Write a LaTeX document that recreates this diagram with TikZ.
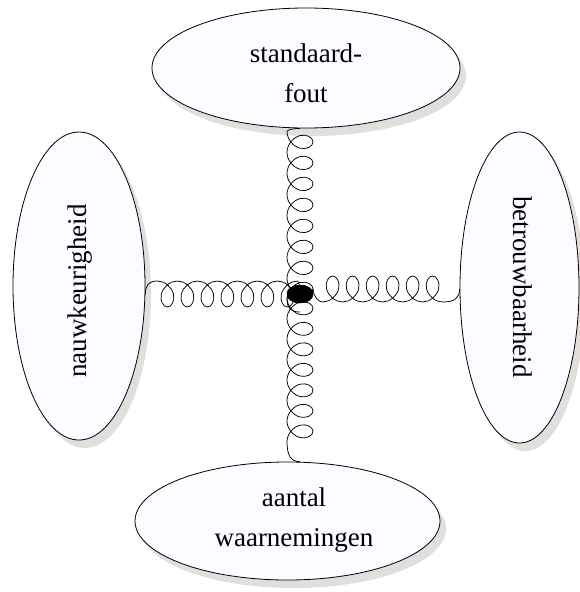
\documentclass[tikz,border=0pt]{standalone}
\usepackage{fontspec}
\setmainfont{Liberation Serif}
\usetikzlibrary{shapes.geometric,shadows,decorations}

\definecolor{bubblefill}{RGB}{250,252,255}
\definecolor{shadowgrey}{RGB}{226,222,220}

% A helical spring seen from the side: a short lead-in curl, whole turns,
% and a tail that runs into the end point.
\def\gluonlead{12pt}
\pgfdeclaredecoration{helix}{lead}{
  \state{lead}[width=\gluonlead, next state=turn]{
    \pgfpathcurveto{\pgfpoint{0pt}{0.7*\pgfdecorationsegmentamplitude}}
                   {\pgfpoint{0.3*\gluonlead}{\pgfdecorationsegmentamplitude}}
                   {\pgfpoint{\gluonlead}{\pgfdecorationsegmentamplitude}}
  }
  \state{turn}[switch if less than=1.05*\pgfdecorationsegmentlength to final,
               width=\pgfdecorationsegmentlength]{
    \pgfpathcurveto{\pgfpoint{0.3713*\pgfdecorationsegmentlength}{\pgfdecorationsegmentamplitude}}
                   {\pgfpoint{0.7167*\pgfdecorationsegmentlength}{0.5236*\pgfdecorationsegmentamplitude}}
                   {\pgfpoint{0.8*\pgfdecorationsegmentlength}{0pt}}
    \pgfpathcurveto{\pgfpoint{0.8833*\pgfdecorationsegmentlength}{-0.5236*\pgfdecorationsegmentamplitude}}
                   {\pgfpoint{0.7046*\pgfdecorationsegmentlength}{-\pgfdecorationsegmentamplitude}}
                   {\pgfpoint{0.5*\pgfdecorationsegmentlength}{-\pgfdecorationsegmentamplitude}}
    \pgfpathcurveto{\pgfpoint{0.2954*\pgfdecorationsegmentlength}{-\pgfdecorationsegmentamplitude}}
                   {\pgfpoint{0.1167*\pgfdecorationsegmentlength}{-0.5236*\pgfdecorationsegmentamplitude}}
                   {\pgfpoint{0.2*\pgfdecorationsegmentlength}{0pt}}
    \pgfpathcurveto{\pgfpoint{0.2833*\pgfdecorationsegmentlength}{0.5236*\pgfdecorationsegmentamplitude}}
                   {\pgfpoint{0.6287*\pgfdecorationsegmentlength}{\pgfdecorationsegmentamplitude}}
                   {\pgfpoint{\pgfdecorationsegmentlength}{\pgfdecorationsegmentamplitude}}
  }
  \state{final}{
    \pgfpathcurveto{\pgfpoint{0.4*\pgfdecoratedremainingdistance}{\pgfdecorationsegmentamplitude}}
                   {\pgfpoint{\pgfdecoratedremainingdistance}{0.6*\pgfdecorationsegmentamplitude}}
                   {\pgfpoint{\pgfdecoratedremainingdistance}{0pt}}
  }
}

\tikzset{
  bubble/.style={ellipse, draw=black, line width=0.8pt, fill=bubblefill, inner sep=0pt,
    general shadow={fill=shadowgrey, shadow xshift=6pt, shadow yshift=-8pt}},
  lbl/.style={font=\fontsize{27}{40}\selectfont, align=center, inner sep=0pt},
  lead in/.code={\def\gluonlead{#1}},
  spring/.style={line width=0.75pt, decorate,
    decoration={helix, amplitude=13pt, segment length=#1}},
  spring/.default=20pt,
  hub/.style={ellipse, fill=black, draw=black, inner sep=0pt, minimum width=26pt, minimum height=18pt}
}

\begin{document}
\begin{tikzpicture}[x=1pt,y=-1pt]
  \useasboundingbox (0,0) rectangle (580,592);

  % the four concepts
  \node[bubble, minimum width=308pt, minimum height=120pt] (se) at (306,68) {};
  \node[bubble, minimum width=132pt, minimum height=308pt] (nw) at (79,286) {};
  \node[bubble, minimum width=119pt, minimum height=311pt] (bt) at (519.5,287.5) {};
  \node[bubble, minimum width=305pt, minimum height=118pt] (aw) at (287.5,521) {};

  \node[lbl] at (306,73) {standaard-\\fout};
  \node[lbl, rotate=90] at (80,291) {nauwkeurigheid};
  \node[lbl, rotate=-90] at (523,287) {betrouwbaarheid};
  \node[lbl] at (294,520) {aantal\\waarnemingen};

  % central knot
  \node[hub] (c) at (300,294) {};
  \coordinate (ct) at ([yshift=-18pt]c.center);

  % springs between the knot and each concept
  \draw[lead in=12pt, spring] ([yshift=-8pt]nw.east) -- (c.center);
  \draw[lead in=17pt, spring] ([yshift=-1.5pt]bt.west) -- ([yshift=5pt]c.east);
  \draw[lead in=12.6pt, spring=21pt] (ct) -- ([xshift=-6pt]se.south);
  \draw[lead in=20pt, spring=20.5pt] ([xshift=12.5pt]aw.north) -- (c.center);

  \node[hub] at (c) {};
\end{tikzpicture}
\end{document}
